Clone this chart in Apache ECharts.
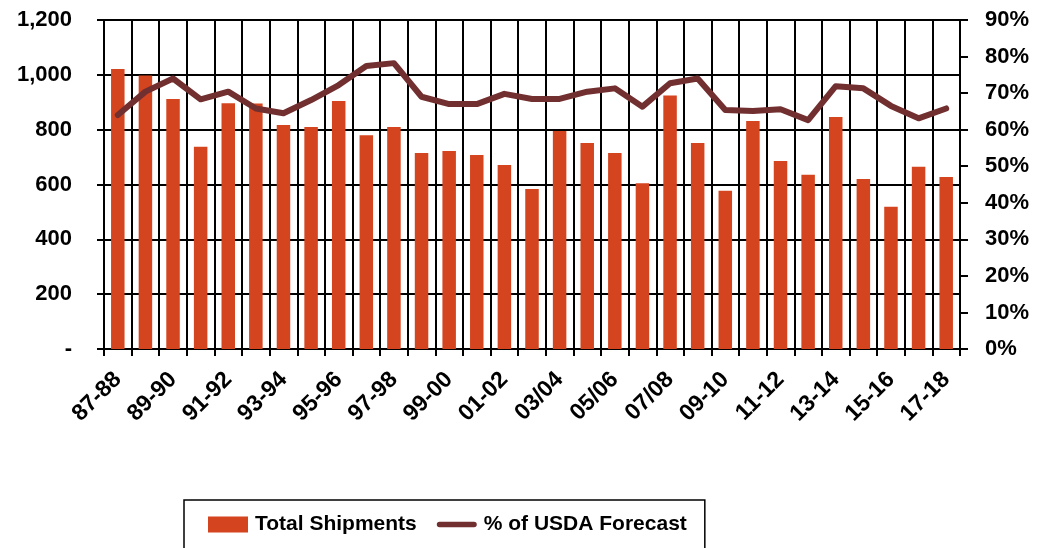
<!DOCTYPE html>
<html>
<head>
<meta charset="utf-8">
<script src="https://cdn.jsdelivr.net/npm/echarts@6/dist/echarts.min.js"></script>
<style>html,body{margin:0;padding:0;background:#fff}#c{width:1044px;height:548px}</style>
</head>
<body>
<div id="c"></div>
<script>
var categories = ['87-88','88-89','89-90','90-91','91-92','92-93','93-94','94-95','95-96','96-97','97-98','98-99','99-00','00-01','01-02','02-03','03/04','04/05','05/06','06/07','07/08','08/09','09-10','10-11','11-12','12-13','13-14','14-15','15-16','16-17','17-18'];
var totalShipments = [1021,998,912,738,896,895,817,810,905,780,810,715,722,708,671,584,795,751,715,605,925,751,577,832,686,636,846,620,519,665,627];
var pctUsdaForecast = [64.0,70.4,74.0,68.3,70.4,65.8,64.5,68.1,72.2,77.4,78.2,69.0,67.0,67.0,69.8,68.4,68.4,70.4,71.3,66.3,72.7,74.0,65.4,65.1,65.6,62.6,71.9,71.3,66.5,63.1,65.8];
var leftTicks = {min:0, max:1200, interval:200};
var rightTicks = {min:0, max:90, interval:10};

var FONT = "'Liberation Sans', Arial, sans-serif";
var chart = echarts.init(document.getElementById('c'), null, {renderer:'canvas'});
chart.setOption({
  animation:false,
  backgroundColor:'#fff',
  grid:{left:104, right:84, top:20, bottom:199, containLabel:false},
  legend:{
    left:184, top:500, orient:'horizontal',
    borderColor:'#000', borderWidth:1.5,
    padding:[14,18,16,24], itemGap:20, itemWidth:40, itemHeight:16,
    symbolKeepAspect:true,
    textStyle:{fontFamily:FONT, fontWeight:'bold', fontSize:21, color:'#000', padding:[0,0,0,2]},
    data:[
      {name:'Total Shipments', icon:'rect'},
      {name:'% of USDA Forecast', icon:'path://M3,0 L40,0 A3,3 0 0 1 40,6 L3,6 A3,3 0 0 1 3,0 Z', itemStyle:{color:'#722F30'}}
    ]
  },
  xAxis:{
    type:'category', data:categories, boundaryGap:true,
    axisLine:{show:true, lineStyle:{color:'#000', width:2}},
    axisTick:{show:true, interval:0, length:7, lineStyle:{color:'#000', width:2}},
    splitLine:{show:true, interval:0, lineStyle:{color:'#000', width:2}},
    axisLabel:{interval:1, rotate:45, margin:27, fontFamily:FONT, fontWeight:'bold', fontSize:23, color:'#000'}
  },
  yAxis:[{
    type:'value', min:leftTicks.min, max:leftTicks.max, interval:leftTicks.interval, position:'left',
    axisLine:{show:true, lineStyle:{color:'#000', width:2}},
    axisTick:{show:true, length:7, lineStyle:{color:'#000', width:2}},
    splitLine:{show:true, lineStyle:{color:'#000', width:2}},
    axisLabel:{margin:32, fontFamily:FONT, fontWeight:'bold', fontSize:22, color:'#000',
      formatter:function(v){return v===0?'-':v.toLocaleString('en-US');}}
  },{
    type:'value', min:rightTicks.min, max:rightTicks.max, interval:rightTicks.interval, position:'right',
    axisLine:{show:true, lineStyle:{color:'#000', width:2}},
    axisTick:{show:true, length:8, lineStyle:{color:'#000', width:2}},
    splitLine:{show:false},
    axisLabel:{margin:25, fontFamily:FONT, fontWeight:'bold', fontSize:22, color:'#000', formatter:'{value}%'}
  }],
  series:[{
    name:'Total Shipments', type:'bar', yAxisIndex:0, data:totalShipments,
    barWidth:13.5, itemStyle:{color:'#D4451F'}
  },{
    name:'% of USDA Forecast', type:'line', yAxisIndex:1, data:pctUsdaForecast,
    symbol:'none', showSymbol:false, z:5,
    lineStyle:{color:'#722F30', width:6, cap:'round', join:'round'},
    itemStyle:{color:'#722F30'}
  }]
});
</script>
</body>
</html>
